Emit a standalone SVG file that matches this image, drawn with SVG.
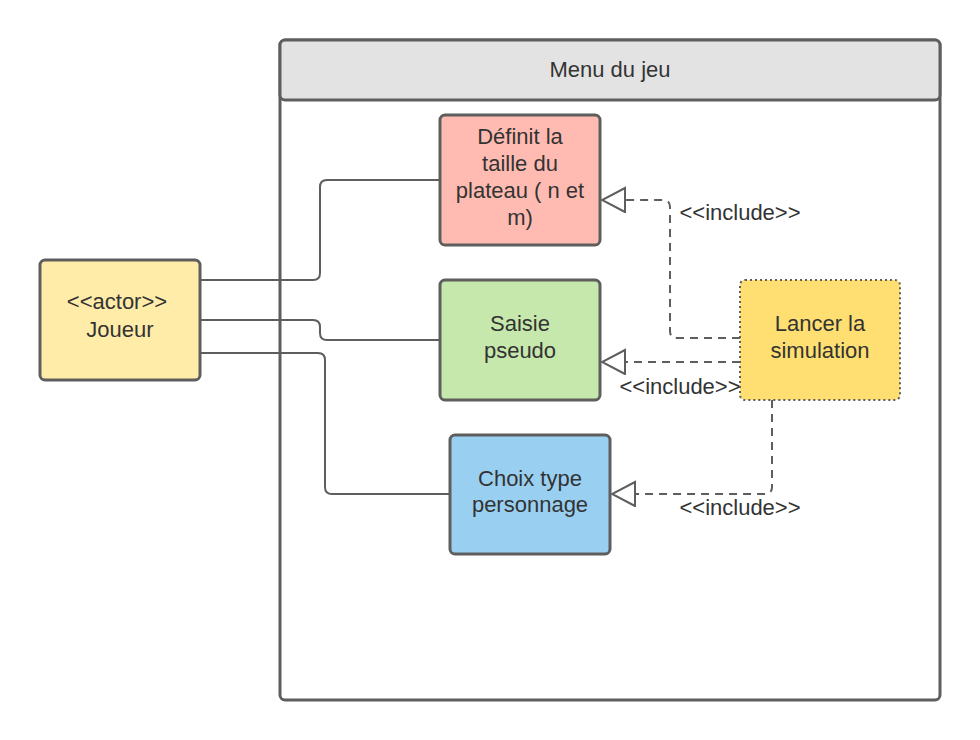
<svg xmlns="http://www.w3.org/2000/svg" width="980" height="740" viewBox="0 0 980 740">
<style>
text{font-family:"Liberation Sans",Arial,sans-serif;font-size:22px;fill:#333;text-anchor:middle}
.box{stroke:#5e5e5e;stroke-width:3}
.sol{fill:none;stroke:#5e5e5e;stroke-width:2}
.dash{fill:none;stroke:#5e5e5e;stroke-width:2;stroke-dasharray:8 6}
.lbl{font-size:22px}
</style>
<defs>
<marker id="tri" markerUnits="userSpaceOnUse" markerWidth="26" markerHeight="28" refX="24" refY="13" orient="auto">
<path d="M1,1 L24,13 L1,25 Z" fill="#fff" stroke="#5e5e5e" stroke-width="2"/>
</marker>
</defs>
<rect width="980" height="740" fill="#fff"/>
<g id="container">
<rect x="280" y="40" width="660" height="660" rx="5" fill="#fff" class="box"/>
<rect x="280" y="40" width="660" height="60" rx="5" fill="#e3e3e3" class="box"/>
<text x="610" y="77">Menu du jeu</text>
</g>
<g id="connectors">
<path class="sol" d="M200,280 H313 Q320,280 320,273 V187 Q320,180 327,180 H440"/>
<path class="sol" d="M200,320 H313 Q320,320 320,327 V333 Q320,340 327,340 H440"/>
<path class="sol" d="M200,353 H318 Q325,353 325,360 V487 Q325,494 332,494 H450"/>
<path class="dash" d="M740,338 H677 Q670,338 670,331 V207 Q670,200 663,200 H602" marker-end="url(#tri)"/>
<path class="dash" d="M740,362 H602" marker-end="url(#tri)"/>
<path class="dash" d="M772,400 V487 Q772,494 765,494 H612" marker-end="url(#tri)"/>
<text class="lbl" x="740" y="220">&lt;&lt;include&gt;&gt;</text>
<text class="lbl" x="680" y="394">&lt;&lt;include&gt;&gt;</text>
<text class="lbl" x="740" y="515">&lt;&lt;include&gt;&gt;</text>
</g>
<g id="actor">
<rect x="40" y="260" width="160" height="120" rx="5" fill="#ffeca9" class="box"/>
<text x="117" y="309">&lt;&lt;actor&gt;&gt;</text>
<text x="120" y="337">Joueur</text>
</g>
<g id="definit">
<rect x="440" y="115" width="160" height="130" rx="5" fill="#ffbbb1" class="box"/>
<text x="520" y="144">Définit la</text>
<text x="520" y="171">taille du</text>
<text x="520" y="198">plateau ( n et</text>
<text x="520" y="225">m)</text>
</g>
<g id="saisie">
<rect x="440" y="280" width="160" height="120" rx="5" fill="#c7e8ac" class="box"/>
<text x="520" y="331">Saisie</text>
<text x="520" y="358">pseudo</text>
</g>
<g id="choix">
<rect x="450" y="435" width="160" height="119" rx="5" fill="#99d0f2" class="box"/>
<text x="530" y="486">Choix type</text>
<text x="530" y="512">personnage</text>
</g>
<g id="lancer">
<rect x="740" y="280" width="160" height="120" rx="5" fill="#ffdf71" stroke="#5e5e5e" stroke-width="2" stroke-dasharray="2 3"/>
<text x="820" y="331">Lancer la</text>
<text x="820" y="358">simulation</text>
</g>
</svg>
